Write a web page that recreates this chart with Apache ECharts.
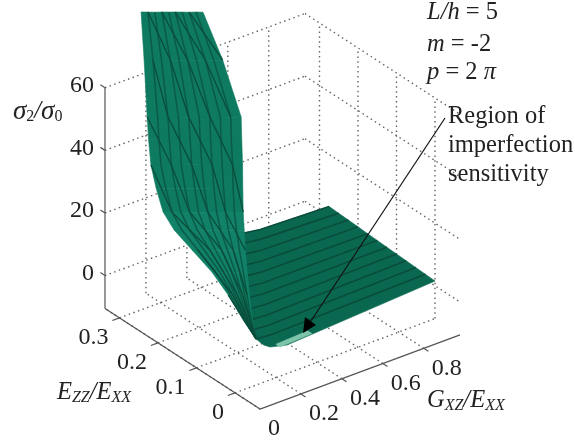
<!DOCTYPE html>
<html><head><meta charset="utf-8">
<style>html,body{margin:0;padding:0;background:#fff}#c{width:575px;height:442px}</style>
<script src="https://cdn.jsdelivr.net/npm/echarts@6/dist/echarts.min.js"></script>
</head><body><div id="c"></div>
<script>
// ---- axis ticks ----
const gTicks=[0,0.2,0.4,0.6,0.8];
const eTicks=[0,0.1,0.2,0.3];
const zTicks=[0,20,40,60];
const gRange=[0,0.977];
const eRange=[-0.065,0.3377];
const zRange=[-10.5,60];
// ---- flat part of the surface: one row per E value ----
const floorE=[0,0.025,0.05,0.075,0.1,0.125,0.15,0.175,0.2,0.225,0.25,0.275];
const floorG=[
 [0.977,0.254,0.171,0.14],[0.977,0.23,0.15],[0.977,0.257,0.177],[0.977,0.294,0.214],
 [0.977,0.336,0.256],[0.977,0.378,0.298],[0.977,0.421,0.341],[0.977,0.463,0.383],
 [0.977,0.507,0.427],[0.977,0.552,0.472],[0.977,0.594,0.514],[0.977,0.641,0.561]];
const floorZ=[
 [1.5,-1.4,0,1.4],[1.67,0.64,1.07],[1.84,0.86,1.3],[2.0,1.14,1.6],
 [2.17,1.6,2.1],[2.34,2.07,2.6],[2.5,2.48,3.05],[2.67,2.97,3.6],
 [2.84,3.33,4.0],[3.0,3.68,4.4],[3.18,4.15,4.95],[3.34,4.18,5.0]];
// ---- steep wall of the surface: rows from top to base ----
const wallG=[0.03,0.03,0.03,0.033,0.037,0.038,0.04,0.045,0.05,0.06,0.07,0.085,0.104];
const wallE=[
 [0.26,0.242,0.224,0.206,0.188,0.171,0.153,0.135,0.117,0.099],
 [0.252,0.229,0.207,0.184,0.161,0.139,0.116,0.093,0.071,0.048],
 [0.244,0.217,0.19,0.163,0.136,0.109,0.081,0.054,0.027,0],
 [0.242,0.215,0.188,0.161,0.134,0.108,0.081,0.054,0.027,0],
 [0.238,0.212,0.185,0.159,0.132,0.106,0.079,0.053,0.026,0],
 [0.225,0.2,0.175,0.15,0.125,0.1,0.075,0.05,0.025,0],
 [0.208,0.185,0.162,0.139,0.116,0.092,0.069,0.046,0.023,0],
 [0.182,0.162,0.142,0.122,0.101,0.081,0.061,0.041,0.02,0],
 [0.138,0.123,0.107,0.092,0.077,0.061,0.046,0.031,0.015,0],
 [0.092,0.082,0.071,0.061,0.051,0.041,0.031,0.02,0.01,0],
 [0.055,0.049,0.043,0.037,0.031,0.024,0.018,0.012,0.006,0],
 [0.024,0.022,0.019,0.016,0.014,0.011,0.008,0.005,0.003,0],
 [0.001,0.001,0.001,0.001,0.001,0,0,0,0,0]];
const wallZ=[
 [89.7,91.1,92.5,94,95.4,96.8,98.2,99.6,101.1,102.5],
 [75,76.8,78.6,80.4,82.2,84,85.8,87.7,89.4,91.3],
 [57.4,59.6,61.7,63.9,66,68.2,70.4,72.6,74.7,76.9],
 [50.2,52.3,54.5,56.6,58.8,60.9,63,65.2,67.3,69.5],
 [42.4,44.5,46.6,48.7,50.9,52.9,55.1,57.2,59.3,61.4],
 [36,38,40,42,44,46,48,50,52,54],
 [29.7,31.5,33.4,35.2,37,39,40.8,42.6,44.5,46.3],
 [25.9,27.5,29.1,30.7,32.3,33.9,35.5,37.1,38.8,40.4],
 [22.9,24.1,25.4,26.6,27.7,29,30.2,31.4,32.7,33.9],
 [19.3,20.1,20.9,21.7,22.5,23.3,24.1,25,25.8,26.6],
 [14.7,15.2,15.7,16.1,16.6,17.2,17.7,18.1,18.6,19.1],
 [8.8,9,9.2,9.4,9.6,9.8,10.1,10.3,10.5,10.7],
 [4.2,4.2,4.2,4.2,4.2,4.2,4.2,4.2,4.2,4.2]];
// column reached by each crossing mesh line on successive wall rows (null: row skipped)
const wallCross=[0,2,3,null,5,null,6,null,8,null,9,null,11];
const crossStarts=[7,5,3,1,-1,-3,-5,-7,-9,-11];
// ---- highlighted region ----
const regionG=[0.22,0.376];
const regionE=[0,0.011];
const regionZ=[-1.2,-0.7];

// view of the 3-D box
const view={x0:235,gx:204.7,ex:-385,y0:360,gy:-76,ey:-250,zy:-3.13};
const P=(g,e,z)=>[view.x0+view.gx*g+view.ex*e, view.y0+view.gy*g+view.ey*e+view.zy*z];

const [g0,g1]=gRange,[e0,e1]=eRange,[z0,z1]=zRange;
const dotted=[],solid=[];
zTicks.forEach(z=>{dotted.push([[g0,e1,z],[g1,e1,z]]);dotted.push([[g1,e1,z],[g1,e0,z]]);});
gTicks.slice(1).forEach(g=>{dotted.push([[g,e1,z0],[g,e1,z1]]);});
eTicks.forEach(e=>{dotted.push([[g1,e,z0],[g1,e,z1]]);});
gTicks.forEach(g=>{dotted.push([[g,e0,z0],[g,e1,z0]]);});
eTicks.forEach(e=>{dotted.push([[g0,e,z0],[g1,e,z0]]);});
solid.push([[g0,e1,z0],[g0,e1,z1]]);
solid.push([[g0,e0,z0],[g0,e1,z0]]);
solid.push([[g0,e0,z0],[g1,e0,z0]]);
zTicks.forEach(z=>solid.push([[g0,e1,z],[g0,e1+0.012,z]]));
eTicks.forEach(e=>solid.push([[g0,e,z0],[g0-0.035,e,z0]]));
gTicks.slice(1).forEach(g=>solid.push([[g,e0,z0],[g,e0-0.012,z0]]));

const COL={wall:'#0e7a5f',wallLow:'#118267',floor:'#0a6851',line:'#0a4c3c',wallLine:'#0a5a46',dot:'#666',axis:'#555',text:'#222',region:'#7cc4aa'};
const FONT='"Liberation Serif","Times New Roman",serif';

function seg3(list,style){
  return {type:'custom',coordinateSystem:'cartesian2d',clip:false,silent:true,animation:false,z:style.z||2,
    data:list.map((_,i)=>[i]),
    renderItem(p,api){
      const pts=list[api.value(0)].map(a=>api.coord(P(a[0],a[1],a[2])));
      return {type:'polyline',shape:{points:pts},style:{stroke:style.stroke,lineWidth:style.lineWidth,lineDash:style.lineDash||null,fill:null}};
    }};
}
function poly3(list,colorOf,z){
  return {type:'custom',coordinateSystem:'cartesian2d',clip:false,silent:true,animation:false,z:z,
    data:list.map((_,i)=>[i]),
    renderItem(p,api){
      const i=api.value(0),c=colorOf(i);
      const pts=list[i].map(a=>api.coord(P(a[0],a[1],a[2])));
      return {type:'polygon',shape:{points:pts},style:{fill:c,stroke:c,lineWidth:0.6}};
    }};
}
// floor strips
const floorRow=r=>floorG[r].map((g,k)=>[g,floorE[r],floorZ[r][k]]);
const floorStrips=[];
for(let r=floorE.length-2;r>=0;r--) floorStrips.push(floorRow(r).concat(floorRow(r+1).reverse()));
const floorLines=floorE.slice(1).map((_,r)=>floorRow(r+1));
// wall
const W=(r,k)=>[wallG[r],wallE[r][k],wallZ[r][k]];
const wallQuads=[],wallQuadRow=[];
for(let r=0;r<wallG.length-1;r++)for(let k=0;k<9;k++){wallQuads.push([W(r,k),W(r,k+1),W(r+1,k+1),W(r+1,k)]);wallQuadRow.push(r);}
const fanLines=[];
for(let k=1;k<9;k++)fanLines.push(wallG.map((_,r)=>W(r,k)));
const crossLines=crossStarts.map(c=>{
  const l=[];wallCross.forEach((o,r)=>{if(o===null)return;const k=o+c;if(k>=0&&k<=9)l.push(W(r,k));});return l;
}).filter(l=>l.length>1);
const regionPoly=[[[regionG[0],regionE[0],regionZ[0]],[regionG[1],regionE[0],regionZ[1]],[regionG[1],regionE[1],regionZ[1]],[regionG[0],regionE[1],regionZ[0]]]];

const tickTexts=[];
zTicks.forEach(z=>tickTexts.push({t:String(z),p:P(g0,e1,z),dx:-11,dy:-2,a:'right'}));
eTicks.forEach(e=>tickTexts.push({t:String(e),p:P(g0,e,z0),dx:-11,dy:20,a:'right'}));
gTicks.forEach(g=>tickTexts.push({t:String(g),p:P(g,e0,z0),dx:8,dy:20,a:'left'}));
const textSeries={type:'custom',coordinateSystem:'cartesian2d',clip:false,silent:true,animation:false,z:6,
  data:tickTexts.map((_,i)=>[i]),
  renderItem(p,api){
    const t=tickTexts[api.value(0)],c=api.coord(t.p);
    return {type:'text',x:c[0]+t.dx,y:c[1]+t.dy,style:{text:t.t,fill:COL.text,fontSize:24,fontFamily:FONT,align:t.a,verticalAlign:'middle'}};
  }};

const it={fontStyle:'italic',fontSize:24.5,fontFamily:FONT,fill:COL.text};
const nm={fontSize:24.5,fontFamily:FONT,fill:COL.text};
const sb={fontStyle:'italic',fontSize:16,fontFamily:FONT,fill:COL.text,padding:[9,0,0,0]};
const sbn={fontSize:16,fontFamily:FONT,fill:COL.text,padding:[9,0,0,0]};
const sg={fontStyle:'italic',fontSize:27,fontFamily:FONT,fill:COL.text};
const rich={i:it,n:nm,s:sb,t:sbn,g:sg};
const lab=(x,y,text)=>({type:'text',x,y,z:10,silent:true,style:{text,rich,fontSize:24.5,fontFamily:FONT,fill:COL.text,verticalAlign:'middle',align:'left'}});

const option={
  animation:false,backgroundColor:'#fff',
  grid:{left:0,top:0,right:0,bottom:0},
  xAxis:{type:'value',min:0,max:575,show:false},
  yAxis:{type:'value',min:0,max:442,inverse:true,show:false},
  series:[
    seg3(dotted,{stroke:COL.dot,lineWidth:1.4,lineDash:[1.5,3.4],z:1}),
    seg3(solid,{stroke:COL.axis,lineWidth:1.2,z:1}),
    poly3(floorStrips,()=>COL.floor,2),
    seg3(floorLines,{stroke:COL.line,lineWidth:1.6,z:3}),
    poly3(regionPoly,()=>COL.region,3),
    poly3(wallQuads,i=>wallQuadRow[i]>=6?COL.wallLow:COL.wall,4),
    seg3(fanLines,{stroke:COL.wallLine,lineWidth:1.5,z:5}),
    seg3(crossLines,{stroke:COL.line,lineWidth:1.3,z:5}),
    textSeries
  ],
  graphic:[
    lab(13,112,'{g|σ}{t|2}{i|/}{g|σ}{t|0}'),
    lab(57,393,'{i|E}{s|ZZ}{i|/E}{s|XX}'),
    lab(427,401,'{i|G}{s|XZ}{i|/E}{s|XX}'),
    lab(427,13,'{i|L/h} {n|= 5}'),
    lab(427,45,'{i|m} {n|= -2}'),
    lab(427,73,'{i|p} {n|= 2} {i|π}'),
    lab(448,117,'{n|Region of}'),
    lab(448,146,'{n|imperfection}'),
    lab(448,175,'{n|sensitivity}'),
    {type:'line',z:9,silent:true,shape:{x1:445,y1:118,x2:309,y2:324},style:{stroke:'#111',lineWidth:1.2}},
    {type:'polygon',z:9,silent:true,shape:{points:[[303,333],[305,317],[316,325]]},style:{fill:'#000'}}
  ]
};
echarts.init(document.getElementById('c'),null,{renderer:'canvas'}).setOption(option);
</script></body></html>
